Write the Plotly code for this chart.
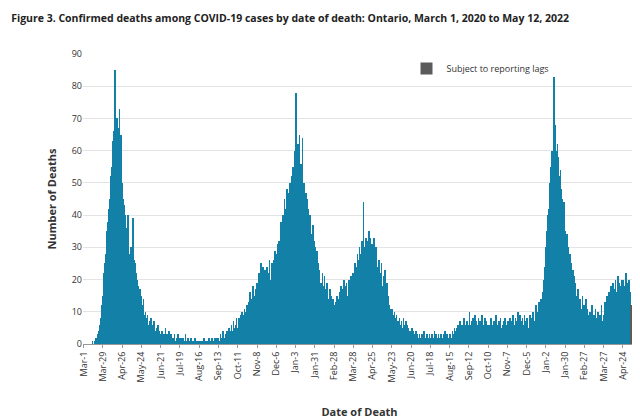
import pandas as pd
import plotly.graph_objects as go

start_date = "2020-03-01"

# daily confirmed deaths, 28-day blocks starting Mar 1, 2020
p00 = [0,0,0,0,0,0,0,0,0,0,0,0,0,1,0,0,1,1,2,1,3,2,4,5,6,8,10,12]
p01 = [15,18,22,25,28,30,35,38,40,42,45,48,52,55,58,63,66,60,85,62,70,67,64,67,73,60,65,55]
p02 = [50,45,42,43,40,38,35,36,40,30,28,25,26,30,25,24,39,22,26,25,20,22,20,18,16,14,17,12]
p03 = [15,10,12,14,9,8,10,7,8,9,6,5,7,6,8,5,4,6,7,5,3,4,5,3,6,2,4,3]
p04 = [3,2,4,2,1,3,2,5,2,3,1,2,4,1,2,3,1,2,2,1,3,1,0,2,1,3,1,2]
p05 = [1,2,0,1,2,1,0,1,3,1,0,1,2,0,1,1,2,0,1,0,1,1,2,0,1,0,1,1]
p06 = [0,1,0,1,1,0,1,2,0,1,0,1,1,0,2,1,0,1,1,2,1,0,1,2,1,0,2,1]
p07 = [2,1,1,3,2,1,2,4,1,2,3,1,4,2,3,5,2,3,4,6,3,4,7,4,5,6,8,5]
p08 = [4,7,8,6,9,7,10,8,7,9,11,8,10,12,9,11,13,10,16,12,14,11,18,13,15,12,17,14]
p09 = [19,17,15,22,18,20,25,16,19,24,18,21,23,19,18,24,22,19,26,20,17,21,25,22,20,26,29,24]
p10 = [23,28,31,26,32,25,33,38,35,29,40,37,45,42,36,46,48,43,47,39,50,46,52,44,55,50,48,60]
p11 = [53,78,55,57,62,50,65,54,56,52,64,48,50,46,44,47,40,45,38,42,36,40,34,33,30,37,28,32]
p12 = [26,30,24,29,21,25,20,23,18,19,17,22,15,18,21,14,17,12,19,13,14,11,17,12,15,10,14,12]
p13 = [12,7,13,11,15,12,13,14,12,16,18,13,15,17,20,14,18,16,19,15,12,17,20,18,16,21,19,22]
p14 = [18,22,25,20,24,23,28,22,26,30,24,28,25,32,27,44,30,25,33,28,32,26,31,35,27,33,29,31]
p15 = [24,28,33,22,26,30,20,24,21,26,17,22,19,25,16,18,21,15,23,17,14,19,13,15,12,10,11,9]
p16 = [11,8,9,7,10,6,8,9,5,7,6,8,4,6,7,5,4,8,6,3,5,7,4,6,5,3,4,2]
p17 = [3,5,2,4,1,3,2,4,1,3,2,1,3,2,1,2,3,1,2,4,1,2,1,3,2,1,2,3]
p18 = [1,2,3,1,2,2,4,1,3,2,1,2,3,1,2,3,1,2,1,3,2,4,1,2,3,1,2,1]
p19 = [2,3,1,2,4,2,3,5,2,4,3,5,6,3,4,7,5,3,6,4,5,8,4,6,5,7,4,6]
p20 = [5,10,6,4,7,5,8,6,4,9,5,7,3,6,8,5,7,4,6,9,5,3,6,8,4,7,5,6]
p21 = [4,6,3,5,8,4,6,2,5,7,4,9,3,6,5,4,7,3,8,5,4,6,3,7,5,8,4,6]
p22 = [5,7,4,6,8,5,3,7,9,4,6,5,8,4,7,10,5,6,9,4,7,5,8,6,4,9,7,5]
p23 = [6,8,5,4,7,9,6,3,8,10,5,7,6,9,12,8,4,10,13,9,11,14,12,8,16,20,18,24]
p24 = [30,28,35,40,42,38,50,55,52,60,58,62,83,65,68,60,55,62,58,52,50,54,48,45,42,40,44,38]
p25 = [35,32,28,34,30,26,24,28,22,25,20,23,18,21,16,19,14,15,12,17,13,10,14,11,9,15,8,12]
p26 = [10,7,14,8,11,6,9,7,10,6,8,12,7,6,9,6,11,6,8,6,10,7,6,9,6,12,7,6]
p27 = [9,6,13,7,10,15,8,12,16,9,14,18,11,15,19,12,17,20,13,16,11,21,14,19,12,18,15,20]
p28 = [14,20,12,18,22,15,19,13,17,20,14,16,12,11,9,8,10,7,10]

lag_days = 7

deaths = (p00 + p01 + p02 + p03 + p04 + p05 + p06 + p07 + p08 + p09 + p10 + p11 + p12 + p13
          + p14 + p15 + p16 + p17 + p18 + p19 + p20 + p21 + p22 + p23 + p24 + p25 + p26 + p27 + p28)
dates = pd.date_range(start_date, periods=len(deaths), freq="D")

tick_dates = dates[::28]
tick_text = [f"{d:%b}-{d.day}" for d in tick_dates]

fig = go.Figure()
fig.add_trace(go.Bar(x=dates[:-lag_days], y=deaths[:-lag_days], marker_color="#1380a8",
                     marker_line_width=0, showlegend=False))
fig.add_trace(go.Bar(x=dates[-lag_days:], y=deaths[-lag_days:], marker_color="#5b5b5b",
                     marker_line_width=0, name="Subject to reporting lags"))

fig.update_layout(
    width=640, height=420,
    margin=dict(l=75, r=12, t=46, b=79),
    bargap=0,
    plot_bgcolor="white", paper_bgcolor="white",
    font=dict(family="Open Sans", size=9, color="#333"),
    title=dict(text="<b>Figure 3. Confirmed deaths among COVID-19 cases by date of death: Ontario, March 1, 2020 to May 12, 2022</b>",
               x=0.005, xanchor="left", y=0.985, yanchor="top", font=dict(size=10.5, color="#222")),
    legend=dict(x=0.585, y=1.0, xanchor="left", yanchor="top", font=dict(size=9),
                bgcolor="rgba(0,0,0,0)", itemwidth=30),
)
fig.update_xaxes(tickvals=tick_dates, ticktext=tick_text, tickangle=-90, showgrid=False,
                 showline=True, linecolor="#999", ticks="outside", ticklen=3, tickcolor="#999",
                 range=[dates[0] - pd.Timedelta(days=1), dates[-1] + pd.Timedelta(days=1)],
                 title=dict(text="<b>Date of Death</b>", font=dict(size=11), standoff=26))
fig.update_yaxes(range=[0, 90], dtick=10, showgrid=True, gridcolor="#e3e3e3",
                 title=dict(text="<b>Number of Deaths</b>", font=dict(size=11), standoff=12))

fig.write_html("out.html")
